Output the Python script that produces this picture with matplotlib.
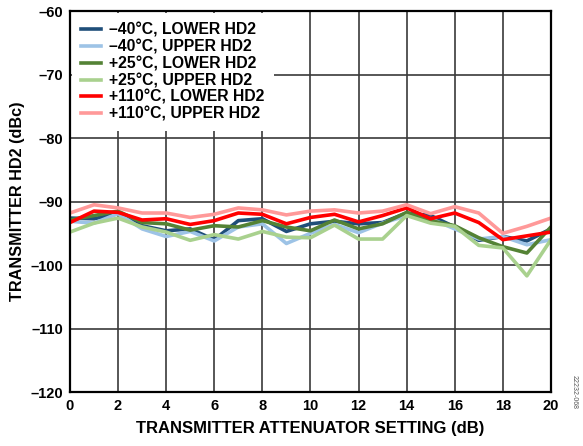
import matplotlib
matplotlib.use('Agg')
import matplotlib.pyplot as plt
import numpy as np

plt.rcParams['font.family'] = ['Liberation Sans', 'DejaVu Sans']
plt.rcParams['font.weight'] = 'bold'

atten = list(range(0, 21))

m40_lower = [-92.6, -92.7, -91.9, -93.8, -94.6, -94.3, -96.0, -93.0, -92.7, -94.7, -93.5,
             -93.1, -93.5, -93.3, -91.8, -92.2, -94.0, -96.1, -95.5, -96.2, -94.3]
m40_upper = [-93.1, -93.4, -91.9, -94.3, -95.5, -94.7, -96.2, -94.0, -93.5, -96.6, -95.0,
             -93.6, -94.9, -93.4, -92.2, -92.7, -94.3, -95.9, -95.5, -96.8, -96.0]
p25_lower = [-92.9, -92.2, -91.5, -93.3, -93.5, -94.5, -93.8, -94.0, -93.0, -94.0, -94.6,
             -92.9, -94.3, -93.5, -91.7, -93.0, -93.8, -95.7, -97.1, -98.1, -94.0]
p25_upper = [-94.8, -93.4, -92.6, -94.0, -94.8, -96.1, -95.2, -95.9, -94.7, -95.6, -95.7,
             -93.7, -95.9, -95.9, -92.2, -93.4, -93.9, -96.9, -97.3, -101.7, -96.0]
p110_lower = [-93.3, -91.5, -91.7, -92.9, -92.7, -93.6, -93.0, -91.8, -92.0, -93.5, -92.5,
              -92.0, -93.2, -92.2, -91.0, -92.7, -91.8, -93.3, -96.0, -95.4, -94.8]
p110_upper = [-91.8, -90.5, -91.0, -91.8, -91.8, -92.5, -92.0, -91.0, -91.3, -92.1, -91.5,
              -91.3, -91.8, -91.5, -90.5, -91.9, -90.8, -91.8, -95.0, -93.9, -92.6]

labels = ['–40°C, LOWER HD2', '–40°C, UPPER HD2', '+25°C, LOWER HD2',
          '+25°C, UPPER HD2', '+110°C, LOWER HD2', '+110°C, UPPER HD2']
colors = ['#1f4e79', '#9dc3e6', '#548235', '#a9d18e', '#ff0000', '#ff9999']
series = [m40_lower, m40_upper, p25_lower, p25_upper, p110_lower, p110_upper]

fig = plt.figure(figsize=(5.83, 4.46), dpi=100)
ax = fig.add_axes([0.120, 0.121, 0.825, 0.854])

for vals, lab, c in zip(series, labels, colors):
    ax.plot(atten, vals, color=c, lw=2.6, label=lab)

ax.set_xlim(0, 20)
ax.set_ylim(-120, -60)
ax.set_xticks(range(0, 21, 2))
ax.set_yticks(range(-120, -59, 10))
ax.set_yticklabels(['–%d' % abs(v) for v in range(-120, -59, 10)])
ax.grid(True, color='#3a3a3a', lw=1.2)
ax.set_axisbelow(True)
ax.tick_params(length=0, labelsize=10.5, pad=5)
for s in ax.spines.values():
    s.set_linewidth(1.6)
    s.set_color('black')

ax.set_xlabel('TRANSMITTER ATTENUATOR SETTING (dB)', fontsize=12, fontweight='bold', labelpad=6)
ax.set_ylabel('TRANSMITTER HD2 (dBc)', fontsize=11.7, fontweight='bold', labelpad=4)

leg = ax.legend(loc='upper left', fontsize=11.3, frameon=True, framealpha=1,
                facecolor='white', edgecolor='none', borderaxespad=0.1,
                handlelength=1.3, handletextpad=0.5, labelspacing=0.12,
                borderpad=0.6, fancybox=False)
for t in leg.get_texts():
    t.set_fontweight('bold')

fig.text(0.985, 0.12, '22232-068', rotation=270, fontsize=5, color='#555555',
         fontweight='normal', ha='center', va='center')

fig.savefig('out.png', dpi=100)
